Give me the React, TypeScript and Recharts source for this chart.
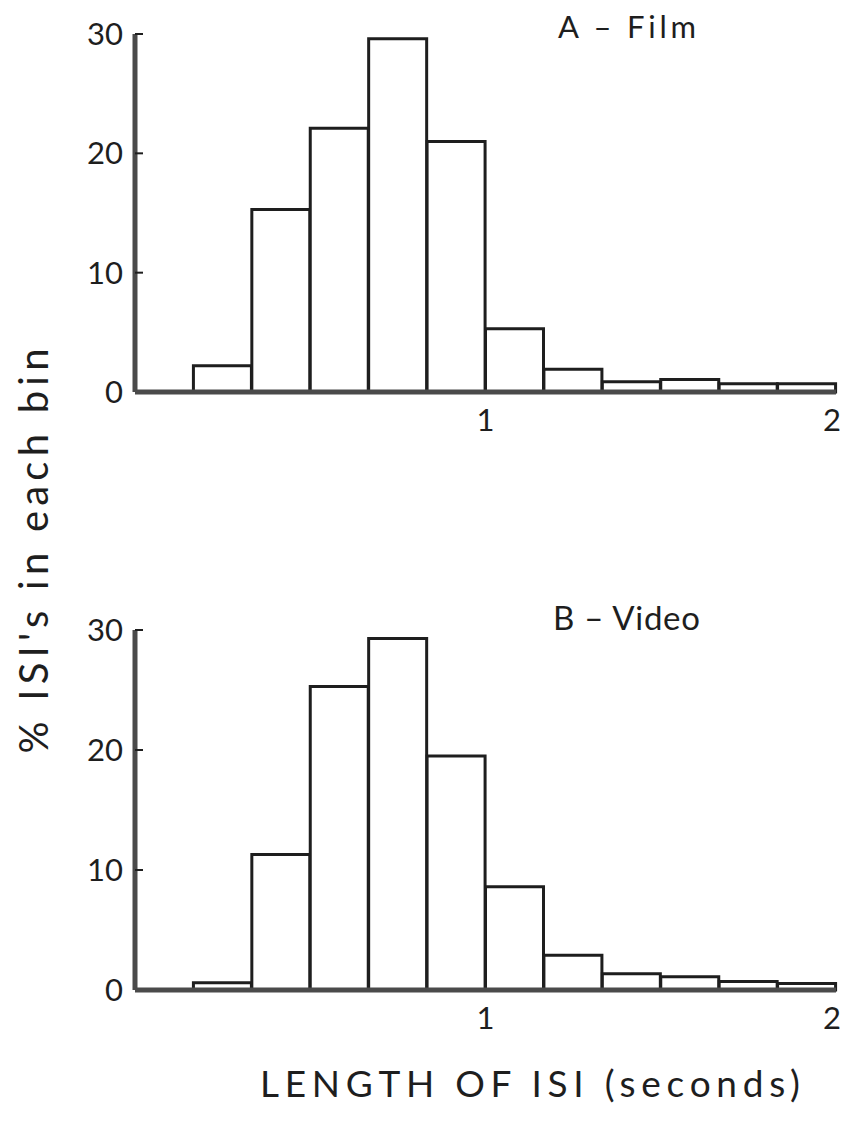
import React from 'react';
import { ComposedChart, Bar, XAxis, YAxis } from 'recharts';

// Bins of 1/6 second from 0 to 2 s (labelled by bin start, seconds)
const binLabels = ['0.00', '0.17', '0.33', '0.50', '0.67', '0.83', '1.00', '1.17', '1.33', '1.50', '1.67', '1.83'];
const filmPercent = [0, 2.2, 15.3, 22.1, 29.6, 21.0, 5.3, 1.9, 0.85, 1.05, 0.7, 0.7];
const videoPercent = [0, 0.6, 11.3, 25.3, 29.3, 19.5, 8.6, 2.9, 1.35, 1.1, 0.7, 0.55];
const yTicks = [0, 10, 20, 30];
// x tick labels: shown at the left edge of bin '1.00' and right edge of bin '1.83'
const xTickAtLeftEdge: Record<string, string> = { '1.00': '1' };
const xTickAtRightEdge: Record<string, string> = { '1.83': '2' };

const FONT = "Lato, 'Open Sans', 'DejaVu Sans', sans-serif";
const INK = '#1e1e1e';
const AXIS = '#4a4a4a';
const Y_TICK_MARGIN = 12;

const filmData = binLabels.map((bin, i) => ({ bin, v: filmPercent[i] }));
const videoData = binLabels.map((bin, i) => ({ bin, v: videoPercent[i] }));

function XTick(props: any) {
  const { x, y, payload } = props;
  const half = payload.offset || 0;
  const left = xTickAtLeftEdge[payload.value];
  const right = xTickAtRightEdge[payload.value];
  const label = left ?? right;
  if (!label) return null;
  const tx = left ? x - half : x + half + 5;
  return (
    <text
      x={tx}
      y={y + 14}
      dy="0.75em"
      textAnchor={left ? 'middle' : 'end'}
      fontSize={31}
      fontFamily={FONT}
      fill={INK}
    >
      {label}
    </text>
  );
}

function YTick(props: any) {
  const { x, y, payload } = props;
  const ax = x + Y_TICK_MARGIN;
  return (
    <g>
      {payload.value !== 0 && (
        <line x1={ax} y1={y} x2={ax + 8} y2={y} stroke={INK} strokeWidth={2} />
      )}
      <text x={x} y={y} dy="0.36em" textAnchor="end" fontSize={31} fontFamily={FONT} fill={INK}>
        {payload.value}
      </text>
    </g>
  );
}

type PanelProps = {
  data: { bin: string; v: number }[];
  height: number;
  top: number;
  marginTop: number;
  xAxisHeight: number;
};

function Panel({ data, height, top, marginTop, xAxisHeight }: PanelProps) {
  return (
    <div style={{ position: 'absolute', left: 0, top }}>
      <ComposedChart
        width={842}
        height={height}
        data={data}
        margin={{ top: marginTop, right: 6, left: 0, bottom: 0 }}
        barCategoryGap={0}
        barGap={0}
      >
        <XAxis
          dataKey="bin"
          type="category"
          height={xAxisHeight}
          tickLine={false}
          tickSize={0}
          axisLine={{ stroke: AXIS, strokeWidth: 5 }}
          tick={<XTick />}
          interval={0}
        />
        <YAxis
          type="number"
          domain={[0, 30]}
          ticks={yTicks}
          width={135}
          tickLine={false}
          tickSize={0}
          tickMargin={Y_TICK_MARGIN}
          axisLine={{ stroke: AXIS, strokeWidth: 5 }}
          tick={<YTick />}
          interval={0}
        />
        <Bar
          dataKey="v"
          fill="#ffffff"
          stroke={INK}
          strokeWidth={3}
          isAnimationActive={false}
        />
      </ComposedChart>
    </div>
  );
}

export default function App() {
  return (
    <div
      style={{
        position: 'absolute',
        left: 0,
        top: 0,
        width: 842,
        height: 1122,
        background: '#ffffff',
        fontFamily: FONT,
      }}
    >
      <Panel data={filmData} height={450} top={0} marginTop={34} xAxisHeight={58} />
      <Panel data={videoData} height={490} top={560} marginTop={70} xAxisHeight={60} />
      <svg
        width={842}
        height={1122}
        style={{ position: 'absolute', left: 0, top: 0, pointerEvents: 'none' }}
      >
        <text x={558} y={38} fontSize={31} fontFamily={FONT} fill={INK} textLength={138}>
          A –  Film
        </text>
        <text x={553} y={630} fontSize={33} fontFamily={FONT} fill={INK} textLength={147}>
          B – Video
        </text>
        <text
          x={0}
          y={0}
          transform="translate(48 551) rotate(-90)"
          textAnchor="middle"
          fontSize={40}
          fontFamily={FONT}
          fill={INK}
          textLength={405}
        >
          % ISI's in each bin
        </text>
        <text x={260} y={1097} fontSize={37} fontFamily={FONT} fill={INK} textLength={540}>
          LENGTH OF ISI  (seconds)
        </text>
      </svg>
    </div>
  );
}
